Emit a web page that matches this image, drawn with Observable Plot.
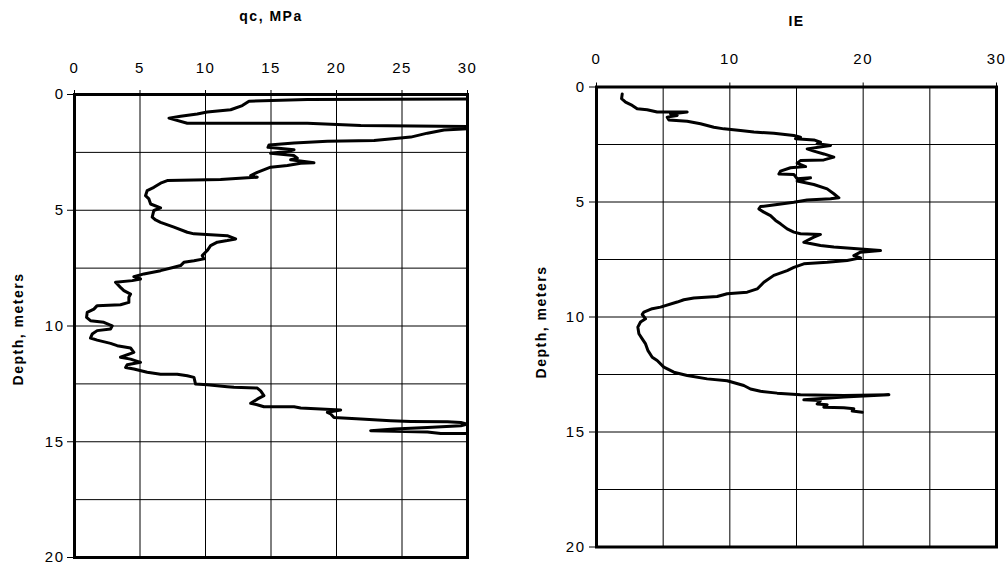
<!DOCTYPE html>
<html><head><meta charset="utf-8">
<script src="https://cdn.jsdelivr.net/npm/d3@7"></script>
<script src="https://cdn.jsdelivr.net/npm/@observablehq/plot@0.6"></script>
<style>
body{margin:0;background:#fff;}
#wrap{position:relative;width:1006px;height:565px;overflow:hidden;}
#left{position:absolute;left:0;top:0;}
#right{position:absolute;left:500px;top:0;}
</style></head>
<body><div id="wrap"><div id="left"></div><div id="right"></div></div>
<script>
// ---- qc profile (MPa) vs depth (m) ----
const qcValues = [30.0,17.77,13.32,12.81,11.92,10.13,9.37,8.10,7.21,8.61,
14.21,17.77,21.85,30.0,30.0,28.21,26.94,25.67,22.87,19.30,
16.76,14.85,14.77,16.76,16.25,14.97,16.76,17.01,16.50,18.28,
17.27,16.25,14.97,13.95,13.45,13.95,13.19,11.15,9.12,7.08,
6.57,6.06,5.55,5.42,5.68,5.81,6.57,6.06,5.93,6.19,
6.57,7.59,8.61,9.12,11.66,12.30,11.66,10.90,10.39,10.13,
9.75,9.88,9.12,8.35,8.10,7.59,6.57,5.30,4.53,
5.04,4.41,3.13,3.51,3.77,4.28,4.15,4.15,3.51,1.73,
1.48,0.97,0.92,1.22,2.24,2.88,2.75,1.73,1.35,1.22,
1.73,2.75,3.26,4.28,4.53,3.51,4.28,5.04,4.02,3.90,
4.53,5.55,6.57,7.84,8.61,9.12,9.24,10.13,11.66,12.17,
13.95,14.21,14.46,13.95,13.45,13.95,14.46,16.76,17.27,18.79,
20.32,19.30,19.56,19.81,21.85,24.14,25.67,28.47,29.49,30.0,
29.49,26.94,24.40,22.61,24.40,26.94,27.96,30.0];
const qcDepth = [0.19,0.22,0.29,0.48,0.66,0.76,0.84,0.94,1.02,1.24,
1.24,1.24,1.34,1.38,1.48,1.53,1.67,1.84,1.99,2.02,
2.09,2.18,2.28,2.39,2.46,2.54,2.64,2.75,2.82,2.95,
2.97,3.07,3.14,3.36,3.50,3.57,3.60,3.67,3.69,3.72,
3.83,4.01,4.15,4.37,4.51,4.73,4.90,5.01,5.30,5.42,
5.52,5.73,5.95,6.02,6.10,6.24,6.31,6.38,6.53,6.74,
6.96,7.10,7.18,7.25,7.39,7.46,7.61,7.75,7.87,
7.97,8.04,8.11,8.33,8.47,8.62,8.76,8.98,9.08,9.12,
9.27,9.41,9.63,9.77,9.84,9.99,10.13,10.20,10.35,10.52,
10.61,10.75,10.85,10.95,11.14,11.35,11.43,11.57,11.67,11.79,
11.86,12.00,12.08,12.08,12.15,12.22,12.51,12.54,12.62,12.65,
12.68,12.80,13.01,13.16,13.34,13.40,13.49,13.49,13.54,13.59,
13.63,13.73,13.80,13.95,14.02,14.09,14.12,14.14,14.17,14.24,
14.31,14.38,14.45,14.52,14.55,14.58,14.64,14.64];

// ---- IE profile vs depth (m) ----
const ieValues = [1.93,1.88,2.18,2.68,3.05,3.80,4.55,5.30,6.80,5.55,
6.05,5.30,5.43,6.80,7.80,8.80,9.55,10.80,11.80,13.30,
14.80,15.30,14.93,16.30,16.80,16.55,17.55,15.80,16.30,17.05,
17.80,17.05,15.30,15.05,15.68,14.55,13.80,13.68,14.80,15.05,
16.05,15.05,16.30,17.30,17.80,18.18,17.55,15.80,14.80,13.55,
12.30,12.18,12.55,13.05,13.43,13.80,14.30,14.80,15.30,16.80,
16.30,15.55,16.80,17.80,19.80,21.30,19.80,19.30,19.80,18.80,
17.30,15.55,14.80,14.30,13.30,12.55,12.05,11.30,9.80,9.05,
7.30,6.55,6.05,4.80,4.18,3.55,3.43,3.68,3.30,3.10,
3.18,3.43,3.68,3.85,4.18,4.55,5.05,5.80,6.80,8.30,
9.80,11.05,11.55,12.30,13.55,15.30,18.55,21.93,18.55,15.55,
16.80,16.55,17.30,17.05,18.55,19.30,19.18,19.93];
const ieDepth = [0.30,0.51,0.66,0.80,0.95,0.99,1.09,1.09,1.09,1.17,
1.24,1.31,1.43,1.49,1.60,1.75,1.82,1.89,1.96,2.01,
2.11,2.18,2.25,2.30,2.40,2.47,2.54,2.69,2.79,2.91,
3.05,3.17,3.20,3.31,3.46,3.51,3.66,3.78,3.80,3.99,
3.95,4.09,4.24,4.43,4.64,4.82,4.86,4.91,5.01,5.11,
5.20,5.30,5.44,5.59,5.80,5.95,6.17,6.31,6.38,6.41,
6.53,6.75,6.89,6.96,7.04,7.11,7.18,7.33,7.43,7.54,
7.62,7.69,7.84,7.98,8.19,8.49,8.78,8.92,8.99,9.11,
9.17,9.25,9.35,9.57,9.64,9.79,9.89,10.08,10.22,10.44,
10.73,10.95,11.17,11.45,11.75,11.89,12.18,12.40,12.54,12.69,
12.77,12.98,13.13,13.23,13.31,13.38,13.41,13.38,13.48,13.60,
13.63,13.78,13.81,13.92,13.95,13.99,14.09,14.14];

// ---- ticks / grid ----
const qcTicks = [0,5,10,15,20,25,30];
const qcGrid = [5,10,15,20,25];
const ieTicks = [0,10,20,30];
const ieGrid = [5,10,15,20,25];
const depthTicks = [0,5,10,15,20];
const depthGrid = [2.5,5,7.5,10,12.5,15,17.5];
const qcTitle = "qc, MPa";
const ieTitle = "IE";
const depthTitle = "Depth, meters";

const qcData = qcValues.map((v,i)=>({v, d: qcDepth[i]}));
const ieData = ieValues.map((v,i)=>({v, d: ieDepth[i]}));

const style = {fontFamily:"'Liberation Sans', Arial, sans-serif", fontSize:"15px", letterSpacing:"1.5px", background:"#fff", color:"#000", overflow:"visible"};

function panel({data, xTicks, xGrid, title, width, m, titleDy, ylabDx, ylabDy, xPad, yPad}) {
  return Plot.plot({
    width, height: 565,
    marginLeft: m[0], marginRight: m[1], marginTop: m[2], marginBottom: m[3],
    style,
    x: {domain:[0,30]},
    y: {domain:[0,20], reverse:true},
    marks: [
      Plot.ruleX(xGrid, {stroke:"#000", strokeWidth:1}),
      Plot.ruleY(depthGrid, {stroke:"#000", strokeWidth:1}),
      Plot.axisX(xTicks, {anchor:"top", tickSize:5, tickPadding:xPad, label:null, fontSize:15}),
      Plot.axisY(depthTicks, {anchor:"left", tickSize:7, tickPadding:yPad, label:null, fontSize:15}),
      Plot.line(data, {x:"v", y:"d", stroke:"#000", strokeWidth:3, strokeLinejoin:"round", strokeLinecap:"round"}),
      Plot.frame({stroke:"#000", strokeWidth:3}),
      Plot.text([title], {frameAnchor:"top", text:d=>d, dy:titleDy, fontWeight:"bold", fontSize:14, textAnchor:"middle", lineAnchor:"middle", style:"letter-spacing:2px"}),
      Plot.text([depthTitle], {frameAnchor:"left", text:d=>d, rotate:-90, dx:ylabDx, dy:ylabDy, fontWeight:"bold", fontSize:14, textAnchor:"middle", lineAnchor:"middle"})
    ]
  });
}

document.getElementById("left").appendChild(panel({
  data: qcData, xTicks: qcTicks, xGrid: qcGrid, title: qcTitle, width: 500,
  m: [74, 33, 94, 8], titleDy: -78, ylabDx: -56, ylabDy: 3, xPad: 17, yPad: 3
}));
document.getElementById("right").appendChild(panel({
  data: ieData, xTicks: ieTicks, xGrid: ieGrid, title: ieTitle, width: 506,
  m: [96, 10, 86.5, 18.5], titleDy: -65, ylabDx: -55, ylabDy: 5, xPad: 18, yPad: 4
}));
</script>
</body></html>
